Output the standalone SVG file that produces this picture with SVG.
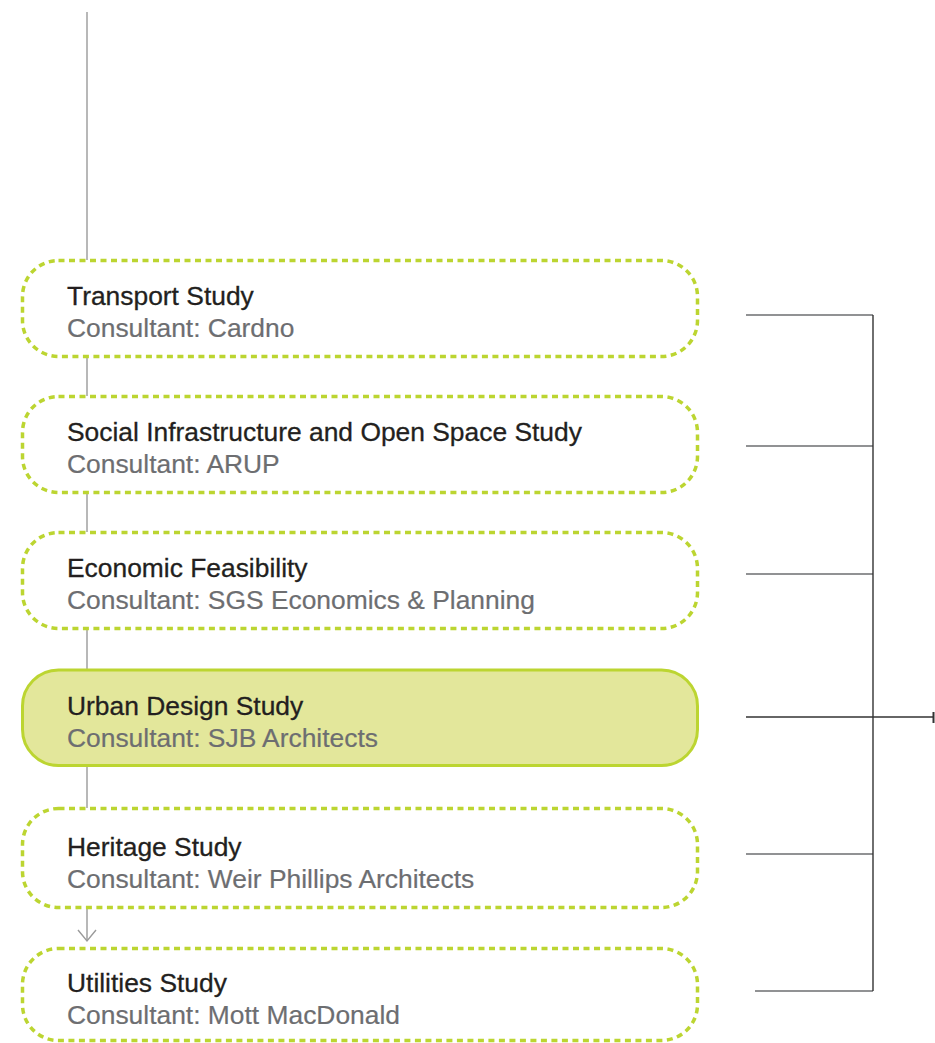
<svg xmlns="http://www.w3.org/2000/svg" width="935" height="1043" viewBox="0 0 935 1043">
<style>
.box{fill:#fff;stroke:#bcd531;stroke-width:3.5;stroke-dasharray:6 4.5}
.hl{fill:#e3e79b;stroke:#bcd531;stroke-width:3}
.t{font-family:"Liberation Sans",Arial,sans-serif;font-size:26.4px;fill:#231f20;stroke:#231f20;stroke-width:0.3}
.s{font-family:"Liberation Sans",Arial,sans-serif;font-size:26.4px;fill:#6d6e71;stroke:#6d6e71;stroke-width:0.2}
.vl{stroke:#9a9a9a;stroke-width:1.4;fill:none}
.hc{stroke:#6d6e71;stroke-width:1.4;fill:none}
.bk{stroke:#333;stroke-width:1.4;fill:none}
</style>
<rect width="935" height="1043" fill="#fff"/>
<g id="connectors">
<line class="vl" x1="87" y1="12" x2="87" y2="260"/>
<line class="vl" x1="87" y1="357" x2="87" y2="396"/>
<line class="vl" x1="87" y1="493" x2="87" y2="532"/>
<line class="vl" x1="87" y1="630" x2="87" y2="670"/>
<line class="vl" x1="87" y1="766" x2="87" y2="808"/>
<line class="vl" x1="87" y1="909" x2="87" y2="941"/>
<polyline class="vl" points="78,930 87,941 96,930"/>
<line class="hc" x1="746" y1="315" x2="873" y2="315"/>
<line class="hc" x1="746" y1="446" x2="873" y2="446"/>
<line class="hc" x1="746" y1="574" x2="873" y2="574"/>
<line class="bk" x1="746" y1="717" x2="933" y2="717"/>
<line x1="933.5" y1="712" x2="933.5" y2="723" stroke="#333" stroke-width="2"/>
<line class="hc" x1="746" y1="854" x2="873" y2="854"/>
<line class="hc" x1="755" y1="991" x2="873" y2="991"/>
<line class="bk" x1="873" y1="315" x2="873" y2="991"/>
</g>
<g id="transport">
<rect class="box" x="22.5" y="260.5" width="675" height="96" rx="36"/>
<text class="t" x="67" y="305">Transport Study</text>
<text class="s" x="67" y="337">Consultant: Cardno</text>
</g>
<g id="social">
<rect class="box" x="22.5" y="396.5" width="675" height="96" rx="36"/>
<text class="t" x="67" y="441">Social Infrastructure and Open Space Study</text>
<text class="s" x="67" y="473">Consultant: ARUP</text>
</g>
<g id="economic">
<rect class="box" x="22.5" y="532.5" width="675" height="96" rx="36"/>
<text class="t" x="67" y="577">Economic Feasibility</text>
<text class="s" x="67" y="609">Consultant: SGS Economics &amp; Planning</text>
</g>
<g id="urban">
<rect class="hl" x="22.5" y="670" width="675" height="95.5" rx="36"/>
<text class="t" x="67" y="715">Urban Design Study</text>
<text class="s" x="67" y="747">Consultant: SJB Architects</text>
</g>
<g id="heritage">
<rect class="box" x="22.5" y="808.5" width="675" height="99" rx="36"/>
<text class="t" x="67" y="856">Heritage Study</text>
<text class="s" x="67" y="888">Consultant: Weir Phillips Architects</text>
</g>
<g id="utilities">
<rect class="box" x="22.5" y="948.5" width="675" height="92" rx="36"/>
<text class="t" x="67" y="992">Utilities Study</text>
<text class="s" x="67" y="1024">Consultant: Mott MacDonald</text>
</g>
</svg>
